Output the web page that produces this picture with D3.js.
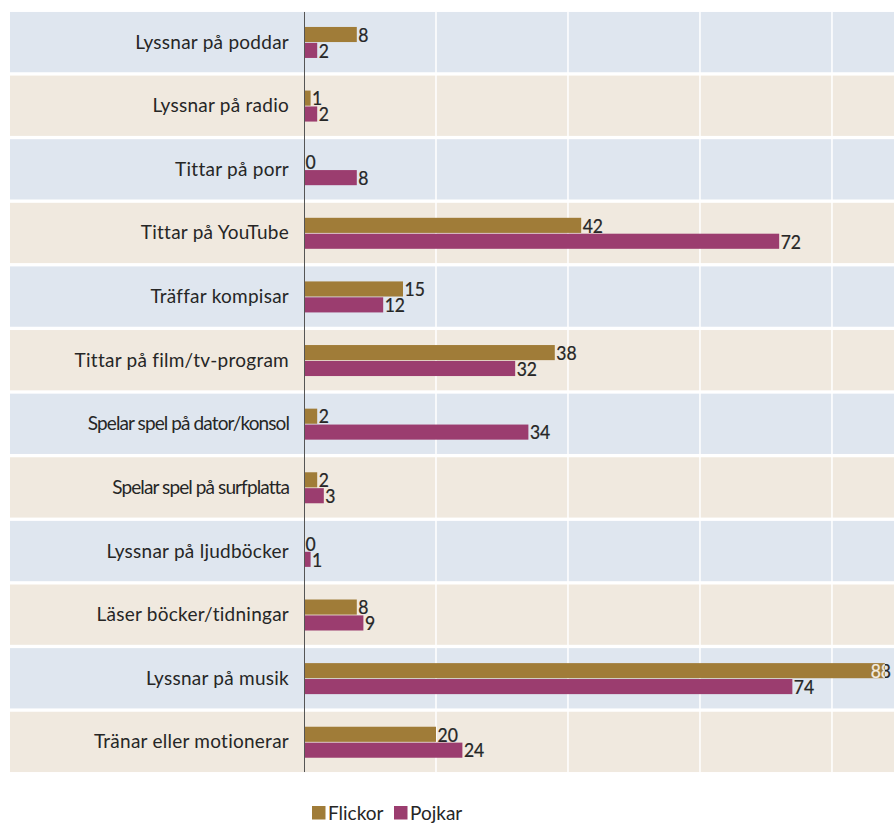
<!DOCTYPE html>
<html>
<head>
<meta charset="utf-8">
<script src="https://cdn.jsdelivr.net/npm/d3@7"></script>
<style>
  html, body { margin: 0; padding: 0; background: #fff; }
  svg { display: block; }
  text { font-family: Lato, "Open Sans", sans-serif; fill: #262626; }
</style>
</head>
<body>
<svg id="chart" width="894" height="823"></svg>
<script>
// Activity categories, top to bottom
const categories = [
  "Lyssnar på poddar",
  "Lyssnar på radio",
  "Tittar på porr",
  "Tittar på YouTube",
  "Träffar kompisar",
  "Tittar på film/tv-program",
  "Spelar spel på dator/konsol",
  "Spelar spel på surfplatta",
  "Lyssnar på ljudböcker",
  "Läser böcker/tidningar",
  "Lyssnar på musik",
  "Tränar eller motionerar"
];
const flickor = [8, 1, 0, 42, 15, 38, 2, 2, 0, 8, 88, 20];
const pojkar  = [2, 2, 8, 72, 12, 32, 34, 3, 1, 9, 74, 24];
const seriesNames = ["Flickor", "Pojkar"];
const gridTicks = [20, 40, 60, 80];

const colors = { Flickor: "#a07c38", Pojkar: "#9b3d6f" };
const rowFills = ["#dfe6ef", "#f0e9df"];
// long labels set a little tighter so they fit the label column
const tightLabels = new Set(["Spelar spel på dator/konsol", "Spelar spel på surfplatta"]);
// value numbers: slightly narrowed digits
const valueSize = 19.5, valueSquash = 0.9;

const svg = d3.select("#chart");
const plotLeft = 10, plotRight = 894, axisX = 304;

const x = d3.scaleLinear().domain([0, 89.4]).range([axisX, plotRight]);
const y = d3.scaleBand().domain(categories)
  .range([10.3, 773.7]).paddingInner(0.052).paddingOuter(0.026);
const ySeries = d3.scaleBand().domain(seriesNames).range([15, 46]).paddingInner(0.05);

const rows = categories.map((c, i) => ({ cat: c, i, Flickor: flickor[i], Pojkar: pojkar[i] }));

// row background bands
svg.append("g").selectAll("rect").data(rows).join("rect")
  .attr("x", plotLeft).attr("width", plotRight - plotLeft)
  .attr("y", d => y(d.cat)).attr("height", y.bandwidth())
  .attr("fill", d => rowFills[d.i % 2]);

// vertical white gridlines
const plotTop = y(categories[0]);
const plotBottom = y(categories[categories.length - 1]) + y.bandwidth();
svg.append("g").selectAll("line").data(gridTicks).join("line")
  .attr("x1", d => x(d)).attr("x2", d => x(d))
  .attr("y1", plotTop).attr("y2", plotBottom)
  .attr("stroke", "#fff").attr("stroke-width", 1.5);

// category labels
svg.append("g").selectAll("text").data(rows).join("text")
  .attr("x", axisX - 15)
  .attr("y", d => y(d.cat) + y.bandwidth() / 2 + 6.5)
  .attr("text-anchor", "end")
  .attr("font-size", 19)
  .attr("letter-spacing", d => tightLabels.has(d.cat) ? -0.9 : 0.25)
  .text(d => d.cat);

// bars
const bars = [];
rows.forEach(r => seriesNames.forEach(s => bars.push({ cat: r.cat, s, v: r[s] })));
svg.append("g").selectAll("rect").data(bars).join("rect")
  .attr("x", x(0))
  .attr("y", d => y(d.cat) + ySeries(d.s))
  .attr("width", d => x(d.v) - x(0))
  .attr("height", ySeries.bandwidth())
  .attr("fill", d => colors[d.s]);

// value labels; a label that would run past the plot edge is pulled back
// over the bar and drawn light where it overlaps the bar
const labelG = svg.append("g");
const defs = svg.append("defs");
function valueText(parent, v, lx, baseY) {
  return parent.append("text")
    .attr("font-size", valueSize)
    .attr("stroke", "#262626").attr("stroke-width", 0.25)
    .attr("transform", `translate(${lx},${baseY}) scale(${valueSquash},1)`)
    .text(v);
}
bars.forEach((d, k) => {
  const by = y(d.cat) + ySeries(d.s);
  const baseY = by + ySeries.bandwidth() - 0.3;
  const barEnd = x(d.v);
  const t = valueText(labelG, d.v, 0, baseY);
  const w = t.node().getComputedTextLength() * valueSquash;
  let lx = barEnd + 1.5;
  if (lx + w > plotRight - 2) {
    lx = plotRight - 3 - w;
    t.remove();
    const clipDark = "clipD" + k, clipLight = "clipL" + k;
    defs.append("clipPath").attr("id", clipDark).append("rect")
      .attr("x", barEnd).attr("y", by - 10).attr("width", 100).attr("height", 40);
    defs.append("clipPath").attr("id", clipLight).append("rect")
      .attr("x", barEnd - 100).attr("y", by - 10).attr("width", 100).attr("height", 40);
    labelG.append("g").attr("clip-path", `url(#${clipDark})`)
      .call(g => valueText(g, d.v, lx, baseY));
    labelG.append("g").attr("clip-path", `url(#${clipLight})`)
      .call(g => valueText(g, d.v, lx, baseY).style("fill", "#f4ece0").attr("stroke", "#f4ece0"));
  } else {
    t.attr("transform", `translate(${lx},${baseY}) scale(${valueSquash},1)`);
  }
});

// category axis line
svg.append("line")
  .attr("x1", axisX + 0.5).attr("x2", axisX + 0.5)
  .attr("y1", plotTop).attr("y2", plotBottom)
  .attr("stroke", "#555").attr("stroke-width", 1);

// legend
const legend = svg.append("g").attr("transform", "translate(312,806)");
const li = legend.selectAll("g").data(seriesNames).join("g")
  .attr("transform", (d, i) => `translate(${i * 82},0)`);
li.append("rect").attr("width", 13.5).attr("height", 13.5).attr("fill", d => colors[d]);
li.append("text").attr("x", 16).attr("y", 13.5).attr("font-size", 19).text(d => d);
</script>
</body>
</html>
